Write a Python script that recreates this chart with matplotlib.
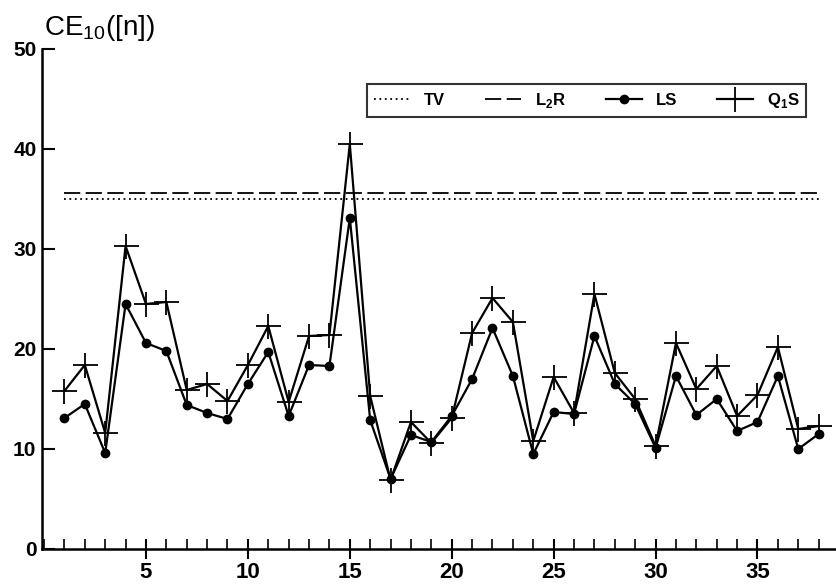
import matplotlib
matplotlib.use("Agg")
import matplotlib.pyplot as plt
from matplotlib.ticker import MultipleLocator

plt.rcParams['font.family'] = ['Liberation Sans', 'DejaVu Sans']
plt.rcParams['mathtext.fontset'] = 'custom'
plt.rcParams['mathtext.rm'] = 'Liberation Sans'
plt.rcParams['mathtext.bf'] = 'Liberation Sans:bold'

# data
n = list(range(1, 39))
ls = [13.1, 14.5, 9.6, 24.5, 20.6, 19.8, 14.4, 13.6, 13.0, 16.5,
      19.7, 13.3, 18.4, 18.3, 33.1, 12.9, 7.0, 11.4, 10.7, 13.3,
      17.0, 22.1, 17.3, 9.5, 13.7, 13.5, 21.3, 16.5, 14.5, 10.1,
      17.3, 13.4, 15.0, 11.8, 12.7, 17.3, 10.0, 11.5]
q1s = [15.8, 18.4, 11.6, 30.3, 24.5, 24.7, 15.9, 16.5, 14.8, 18.4,
       22.3, 14.7, 21.3, 21.4, 40.5, 15.3, 6.9, 12.7, 10.6, 13.1,
       21.6, 25.1, 22.7, 10.8, 17.2, 13.6, 25.5, 17.6, 15.0, 10.3,
       20.6, 16.0, 18.3, 13.3, 15.4, 20.2, 12.0, 12.3]
tv = 35.0
l2r = 35.6

fig = plt.figure(figsize=(8.37, 5.85), dpi=100)
ax = fig.add_axes([42/837, 36/585, 795/837, 500/585])

ax.plot(n, [tv]*len(n), color='black', lw=1.3, ls=(0, (1, 2)), label='TV')
ax.plot(n, [l2r]*len(n), color='black', lw=1.3, ls=(0, (9, 3)), label=r'L$_\mathbf{2}$R')
ax.plot(n, ls, color='black', lw=1.6, marker='o', ms=6, label='LS')
ax.plot(n, q1s, color='black', lw=1.6, marker='+', ms=18, mew=1.3,
        label=r'Q$_\mathbf{1}$S')

ax.set_xlim(-0.1, 38.9)
ax.set_ylim(0, 50)
ax.spines['top'].set_visible(False)
ax.spines['right'].set_visible(False)
ax.spines['left'].set_linewidth(1.8)
ax.spines['bottom'].set_linewidth(1.8)

ax.xaxis.set_major_locator(MultipleLocator(5))
ax.xaxis.set_minor_locator(MultipleLocator(1))
ax.yaxis.set_major_locator(MultipleLocator(10))
ax.tick_params(axis='x', which='major', direction='inout', length=14, width=1.5,
               labelsize=16, pad=2)
ax.tick_params(axis='x', which='minor', direction='in', length=7, width=1.2)
ax.tick_params(axis='y', which='major', direction='in', length=9, width=1.5,
               labelsize=15, pad=4)
ax.set_xticks([5, 10, 15, 20, 25, 30, 35])
for lab in ax.get_xticklabels() + ax.get_yticklabels():
    lab.set_fontweight('bold')

leg = ax.legend(loc='center', bbox_to_anchor=(0.409, 0.844, 0.552, 0.106),
                mode='expand', ncol=4, frameon=True, fancybox=False,
                handlelength=2.2, borderaxespad=0,
                prop={'weight': 'bold', 'size': 12})
leg.get_frame().set_edgecolor('black')
leg.get_frame().set_linewidth(1.5)

fig.text(44/837, 1 - 35/585, r'CE$_{10}$([n])', fontsize=20, va='baseline')

fig.savefig('out.png', dpi=100)
